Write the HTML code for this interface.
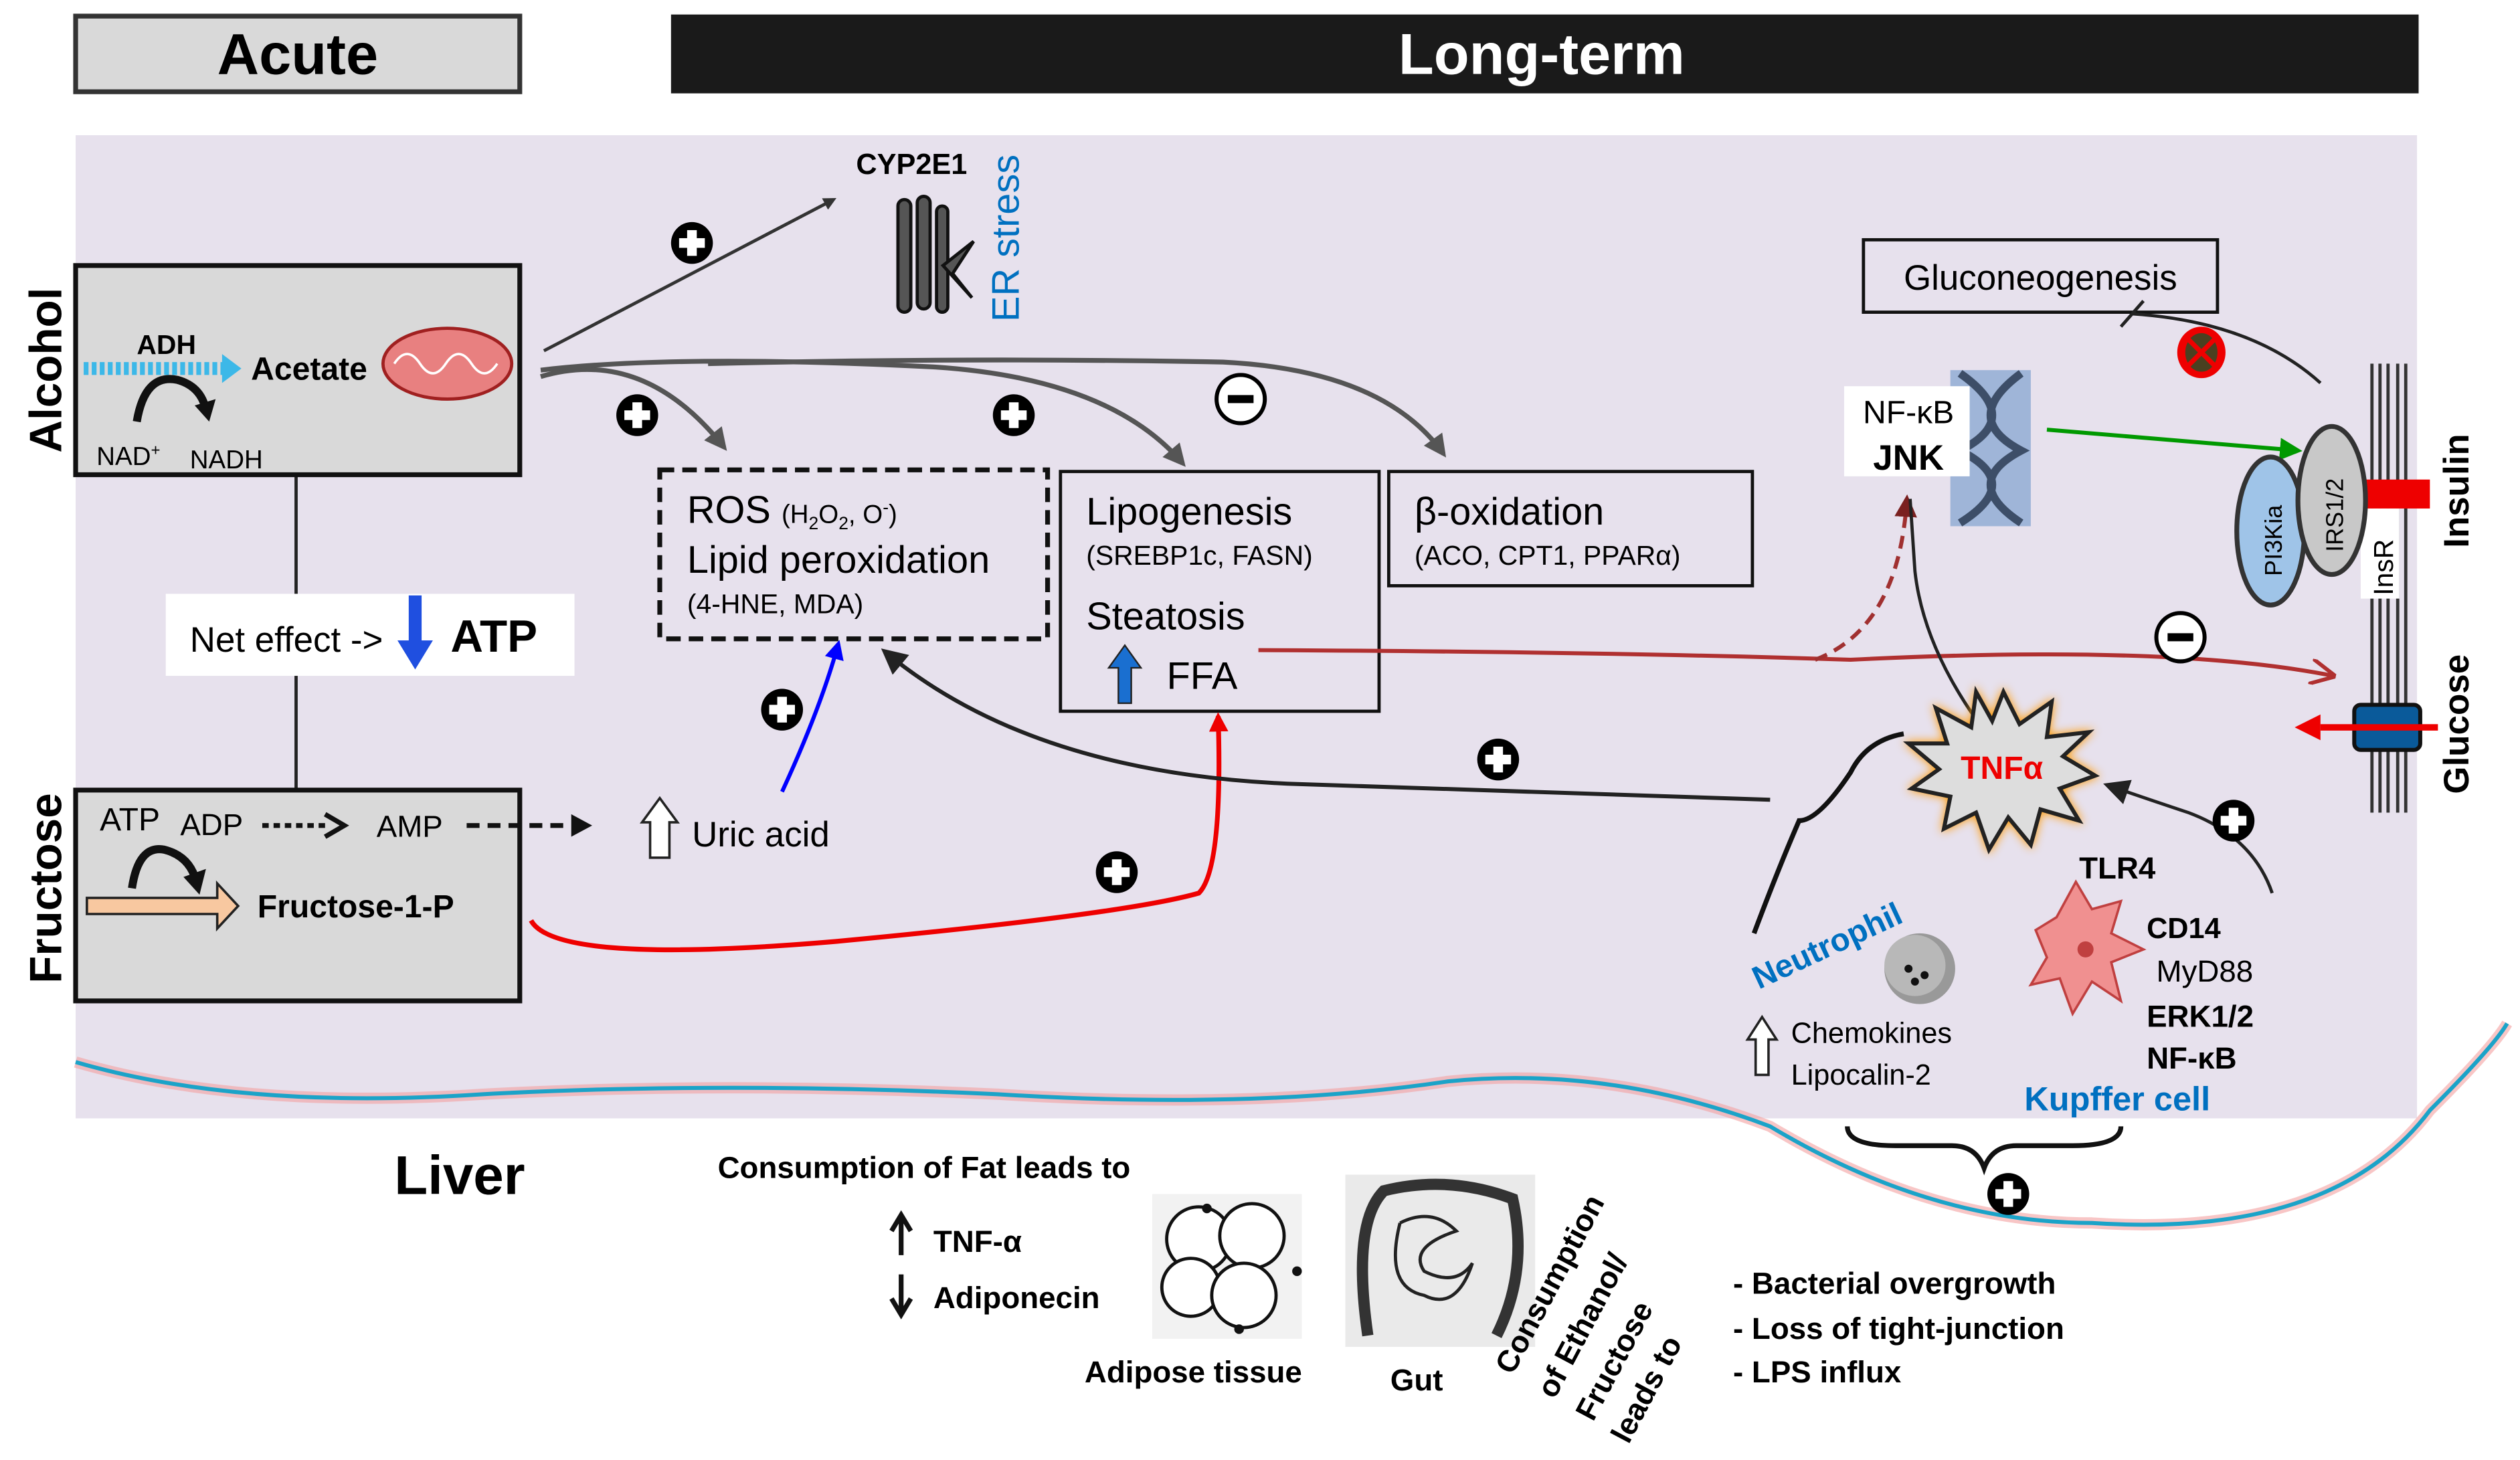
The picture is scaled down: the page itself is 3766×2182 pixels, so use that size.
<!DOCTYPE html>
<html><head><meta charset="utf-8"><style>
html,body{margin:0;padding:0;background:#fff;}
svg{display:block;}
text{font-family:"Liberation Sans",Arial,sans-serif;}
</style></head><body>
<svg width="3766" height="2182" viewBox="0 0 1566 907.3" xmlns="http://www.w3.org/2000/svg">
<defs>
<g id="plus"><circle r="13" fill="#000"/><rect x="-8" y="-3" width="16" height="6" fill="#fff"/><rect x="-3" y="-8" width="6" height="16" fill="#fff"/></g>
<g id="minus"><circle r="15" fill="#fff" stroke="#000" stroke-width="2.5"/><rect x="-8" y="-2.5" width="16" height="5" fill="#000"/></g>
<marker id="ab" markerWidth="8" markerHeight="8" refX="6" refY="4" orient="auto" markerUnits="userSpaceOnUse"><path d="M0,0 L8,4 L0,8 z" fill="#333"/></marker>
<marker id="ag" viewBox="0 0 10 10" markerWidth="14" markerHeight="14" refX="8" refY="5" orient="auto" markerUnits="userSpaceOnUse"><path d="M0,0 L10,5 L0,10 z" fill="#555"/></marker>
<marker id="ar" viewBox="0 0 10 10" markerWidth="12" markerHeight="12" refX="8" refY="5" orient="auto" markerUnits="userSpaceOnUse"><path d="M0,0 L10,5 L0,10 z" fill="#e00"/></marker>
<marker id="abl" viewBox="0 0 10 10" markerWidth="12" markerHeight="12" refX="8" refY="5" orient="auto" markerUnits="userSpaceOnUse"><path d="M0,0 L10,5 L0,10 z" fill="#00f"/></marker>
<marker id="agr" viewBox="0 0 10 10" markerWidth="14" markerHeight="14" refX="8" refY="5" orient="auto" markerUnits="userSpaceOnUse"><path d="M0,0 L10,5 L0,10 z" fill="#090"/></marker>
<marker id="adr" viewBox="0 0 10 10" markerWidth="14" markerHeight="14" refX="8" refY="5" orient="auto" markerUnits="userSpaceOnUse"><path d="M0,0 L10,5 L0,10 z" fill="#7a2020"/></marker>
<marker id="ak" viewBox="0 0 10 10" markerWidth="16" markerHeight="16" refX="8" refY="5" orient="auto" markerUnits="userSpaceOnUse"><path d="M0,0 L10,5 L0,10 z" fill="#222"/></marker>
<marker id="aopen" viewBox="0 0 10 10" markerWidth="16" markerHeight="16" refX="9" refY="5" orient="auto" markerUnits="userSpaceOnUse"><path d="M0,0 L10,5 L0,10" fill="none" stroke="#b03030" stroke-width="1.5"/></marker>
</defs>
<rect width="1566" height="907.3" fill="#fff"/>
<rect x="47" y="10" width="276" height="47" fill="#d9d9d9" stroke="#333" stroke-width="3"/>
<text x="185" y="46" font-size="36" font-weight="bold" text-anchor="middle">Acute</text>
<rect x="417" y="9" width="1086" height="49" fill="#1a1a1a"/>
<text x="958" y="46" font-size="36" font-weight="bold" fill="#fff" text-anchor="middle">Long-term</text>
<rect x="47" y="84" width="1455" height="611" fill="#e7e1ed"/>
<text transform="translate(38,230) rotate(-90)" font-size="28" font-weight="bold" text-anchor="middle">Alcohol</text>
<text transform="translate(38,552) rotate(-90)" font-size="28" font-weight="bold" text-anchor="middle">Fructose</text>
<text transform="translate(1534,305) rotate(-90)" font-size="22" font-weight="bold" text-anchor="middle">Insulin</text>
<text transform="translate(1534,450) rotate(-90)" font-size="22" font-weight="bold" text-anchor="middle">Glucose</text>
<line x1="184" y1="295" x2="184" y2="491" stroke="#222" stroke-width="2"/>
<rect x="47" y="165" width="276" height="130" fill="#d9d9d9" stroke="#111" stroke-width="3"/>
<text x="85" y="220" font-size="17" font-weight="bold">ADH</text>
<path d="M52,229 H140" stroke="#3cb8e8" stroke-width="8" stroke-dasharray="3,2"/>
<path d="M138,220 L150,229 L138,238 z" fill="#3cb8e8"/>
<path d="M85,262 Q90,232 110,236 Q125,240 128,255" fill="none" stroke="#111" stroke-width="5"/>
<path d="M121,252 L130,262 L134,248 z" fill="#111"/>
<text x="156" y="236" font-size="20" font-weight="bold">Acetate</text>
<ellipse cx="278" cy="226" rx="40" ry="22" fill="#e88080" stroke="#a02020" stroke-width="2"/>
<path d="M245,226 q8,-12 16,0 q8,12 16,0 q8,-12 16,0 q8,12 16,0" fill="none" stroke="#fff" stroke-width="1.5"/>
<text x="60" y="289" font-size="16">NAD<tspan font-size="10" dy="-6">+</tspan></text>
<text x="118" y="291" font-size="16">NADH</text>
<rect x="103" y="369" width="254" height="51" fill="#fff"/>
<text x="118" y="405" font-size="22">Net effect -&gt;</text>
<path d="M254,370 v28 h-7 l11,18 l11,-18 h-7 v-28 z" fill="#1f4fe0"/>
<text x="280" y="405" font-size="28" font-weight="bold">ATP</text>
<rect x="47" y="491" width="276" height="131" fill="#d9d9d9" stroke="#111" stroke-width="3"/>
<text x="62" y="516" font-size="20">ATP</text>
<text x="112" y="519" font-size="19">ADP</text>
<path d="M163,513 H205" stroke="#111" stroke-width="3" stroke-dasharray="4,3"/>
<path d="M202,506 L214,513 L202,520" fill="none" stroke="#111" stroke-width="3"/>
<text x="234" y="520" font-size="19">AMP</text>
<path d="M290,513 H355" stroke="#111" stroke-width="3" stroke-dasharray="8,5"/>
<path d="M355,506 L368,513 L355,520 z" fill="#111"/>
<path d="M82,552 Q86,525 102,528 Q118,532 122,548" fill="none" stroke="#111" stroke-width="5"/>
<path d="M114,545 L124,556 L128,540 z" fill="#111"/>
<path d="M54,558 H135 v-9 l13,14 l-13,14 v-9 H54 z" fill="#f8c8a0" stroke="#222" stroke-width="1.5"/>
<text x="160" y="570" font-size="20" font-weight="bold">Fructose-1-P</text>
<path d="M404,533 v-22 h-5 l11,-15 l11,15 h-5 v22 z" fill="#fff" stroke="#222" stroke-width="1.5"/>
<text x="430" y="526" font-size="22">Uric  acid</text>
<path d="M338,218 L518,124" stroke="#333" stroke-width="2" marker-end="url(#ab)"/>
<use href="#plus" x="430" y="151"/>
<text x="532" y="108" font-size="18" font-weight="bold">CYP2E1</text>
<g stroke="#111" stroke-width="2" fill="#555">
<rect x="558" y="124" width="8" height="70" rx="4"/><rect x="570" y="122" width="8" height="70" rx="4"/><rect x="582" y="128" width="7" height="66" rx="3.5"/>
<path d="M586,165 L605,150 L592,170 L604,185 z"/></g>
<text transform="translate(633,200) rotate(-90)" font-size="24" fill="#0070c0">ER stress</text>
<path d="M336,234 Q400,215 450,278" fill="none" stroke="#555" stroke-width="3" marker-end="url(#ag)"/>
<path d="M336,230 Q420,220 580,228 Q690,235 735,288" fill="none" stroke="#555" stroke-width="3" marker-end="url(#ag)"/>
<path d="M440,226 Q600,222 760,225 Q860,230 897,282" fill="none" stroke="#555" stroke-width="3" marker-end="url(#ag)"/>
<use href="#plus" x="396" y="258"/>
<use href="#plus" x="630" y="258"/>
<use href="#minus" x="771" y="248"/>
<rect x="410" y="292" width="241" height="105" fill="none" stroke="#111" stroke-width="3" stroke-dasharray="9,5"/>
<text x="427" y="325" font-size="24">ROS <tspan font-size="16">(H<tspan font-size="11" dy="4">2</tspan><tspan dy="-4">O</tspan><tspan font-size="11" dy="4">2</tspan><tspan dy="-4">, O</tspan><tspan font-size="11" dy="-6">-</tspan><tspan dy="6">)</tspan></tspan></text>
<text x="427" y="356" font-size="24">Lipid peroxidation</text>
<text x="427" y="381" font-size="17">(4-HNE, MDA)</text>
<rect x="659" y="293" width="198" height="149" fill="#e7e1ed" stroke="#111" stroke-width="2"/>
<text x="675" y="326" font-size="24">Lipogenesis</text>
<text x="675" y="351" font-size="17">(SREBP1c, FASN)</text>
<text x="675" y="391" font-size="24">Steatosis</text>
<path d="M695,437 v-22 h-6 l10,-14 l10,14 h-6 v22 z" fill="#1a6fd0" stroke="#222" stroke-width="1"/>
<text x="725" y="428" font-size="24">FFA</text>
<rect x="863" y="293" width="226" height="71" fill="none" stroke="#111" stroke-width="2"/>
<text x="879" y="326" font-size="24">β-oxidation</text>
<text x="879" y="351" font-size="17">(ACO, CPT1, PPARα)</text>
<path d="M486,492 Q510,440 521,400" fill="none" stroke="#00f" stroke-width="2.5" marker-end="url(#abl)"/>
<use href="#plus" x="486" y="441"/>
<path d="M330,572 Q345,600 520,585 Q700,568 745,555 Q760,540 757,445" fill="none" stroke="#e00" stroke-width="3" marker-end="url(#ar)"/>
<use href="#plus" x="694" y="542"/>
<path d="M1100,497 Q900,490 800,487 Q640,480 550,405" fill="none" stroke="#222" stroke-width="2.5" marker-end="url(#ak)"/>
<use href="#plus" x="931" y="472"/>
<path d="M782,404 Q1000,405 1150,410 Q1350,400 1450,420" fill="none" stroke="#b03030" stroke-width="2.5" marker-end="url(#aopen)"/>
<use href="#minus" x="1355" y="396"/>
<path d="M1128,410 Q1180,390 1185,310" fill="none" stroke="#a03030" stroke-width="2.5" stroke-dasharray="8,5" marker-end="url(#adr)"/>
<path d="M1228,447 Q1195,400 1190,355 L1187,310" fill="none" stroke="#222" stroke-width="2"/>
<rect x="1158" y="149" width="220" height="45" fill="none" stroke="#111" stroke-width="2"/>
<text x="1268" y="180" font-size="22" text-anchor="middle">Gluconeogenesis</text>
<path d="M1442,238 Q1400,200 1325,195" fill="none" stroke="#222" stroke-width="2"/>
<line x1="1318" y1="203" x2="1332" y2="187" stroke="#222" stroke-width="2"/>
<ellipse cx="1368" cy="219" rx="15" ry="16" fill="#e00"/>
<ellipse cx="1368" cy="219" rx="10" ry="12" fill="#4a4020"/>
<path d="M1360,211 L1376,227 M1376,211 L1360,227" stroke="#e00" stroke-width="3"/>
<rect x="1212" y="230" width="50" height="97" fill="#9fb5d8"/>
<path d="M1218,232 Q1258,260 1218,280 Q1258,300 1218,325 M1256,232 Q1218,260 1256,280 Q1218,300 1256,325" fill="none" stroke="#3d4e68" stroke-width="5"/>
<rect x="1146" y="240" width="78" height="56" fill="#fff"/>
<text x="1186" y="263" font-size="20" text-anchor="middle">NF-κB</text>
<text x="1186" y="292" font-size="22" font-weight="bold" text-anchor="middle">JNK</text>
<path d="M1272,267 L1428,280" stroke="#090" stroke-width="2.5" marker-end="url(#agr)"/>
<g stroke="#333" stroke-width="2"><line x1="1474" y1="226" x2="1474" y2="505"/><line x1="1479" y1="226" x2="1479" y2="505"/><line x1="1484" y1="226" x2="1484" y2="505"/><line x1="1490" y1="226" x2="1490" y2="505"/><line x1="1495" y1="226" x2="1495" y2="505"/></g>
<rect x="1465" y="298" width="45" height="18" fill="#e00"/>
<rect x="1467" y="316" width="24" height="56" fill="#fff"/>
<text transform="translate(1487,370) rotate(-90)" font-size="17">InsR</text>
<ellipse cx="1411" cy="330" rx="21" ry="46" fill="#9fc4e8" stroke="#333" stroke-width="3"/>
<text transform="translate(1418,358) rotate(-90)" font-size="15">PI3Kia</text>
<ellipse cx="1449" cy="311" rx="21" ry="46" fill="#c8c8c8" stroke="#333" stroke-width="3"/>
<text transform="translate(1456,343) rotate(-90)" font-size="15">IRS1/2</text>
<rect x="1463" y="438" width="41" height="28" rx="4" fill="#0a5a9a" stroke="#111" stroke-width="2.5"/>
<path d="M1515,452 H1442" stroke="#e00" stroke-width="4"/>
<path d="M1442,444 L1426,452 L1442,460 z" fill="#e00"/>
<polygon points="1245,430 1255,450 1275,436 1272,458 1298,455 1282,470 1302,482 1280,490 1292,510 1268,503 1262,525 1248,508 1236,528 1228,505 1208,515 1212,495 1188,490 1205,478 1186,462 1210,462 1203,440 1225,452 1228,430 1238,448" fill="#ddd" stroke="#222" stroke-width="2.5" style="filter:drop-shadow(0 0 3px #f90)"/>
<text x="1244" y="484" font-size="20" font-weight="bold" fill="#e00" text-anchor="middle">TNFα</text>
<path d="M1183,456 Q1160,460 1150,480 Q1130,510 1118,510 Q1105,540 1090,580" fill="none" stroke="#111" stroke-width="3"/>
<path d="M1412,555 Q1400,520 1360,505 Q1330,495 1310,488" fill="none" stroke="#222" stroke-width="2" marker-end="url(#ak)"/>
<use href="#plus" x="1388" y="510"/>
<text x="1093" y="615" font-size="20" font-weight="bold" fill="#0070c0" transform="rotate(-25 1093 615)">Neutrophil</text>
<circle cx="1193" cy="602" r="22" fill="#999"/><circle cx="1190" cy="600" r="19" fill="#b8b8b8"/>
<circle cx="1186" cy="602" r="2.5" fill="#111"/><circle cx="1196" cy="606" r="2.5" fill="#111"/><circle cx="1190" cy="610" r="2.5" fill="#111"/>
<path d="M1091,668 v-22 h-5 l9,-14 l9,14 h-5 v22 z" fill="#fff" stroke="#222" stroke-width="1.5"/>
<text x="1113" y="648" font-size="18">Chemokines</text>
<text x="1113" y="674" font-size="18">Lipocalin-2</text>
<text x="1292" y="546" font-size="19" font-weight="bold">TLR4</text>
<path d="M1265,578 L1278,570 L1290,548 L1300,565 L1318,560 L1312,580 L1332,590 L1312,598 L1318,622 L1300,610 L1288,630 L1280,608 L1262,612 L1272,595 z" fill="#f09090" stroke="#c04040" stroke-width="1.5"/>
<circle cx="1296" cy="590" r="5" fill="#c04040"/>
<text x="1334" y="583" font-size="18" font-weight="bold">CD14</text>
<text x="1340" y="610" font-size="19">MyD88</text>
<text x="1334" y="638" font-size="19" font-weight="bold">ERK1/2</text>
<text x="1334" y="664" font-size="19" font-weight="bold">NF-κB</text>
<text x="1258" y="690" font-size="21" font-weight="bold" fill="#0070c0">Kupffer cell</text>
<path d="M47,660 Q150,690 300,680 Q450,672 620,680 Q780,690 900,672 Q1000,662 1100,700 Q1200,760 1300,760 Q1450,770 1510,690 Q1550,650 1558,636" fill="none" stroke="#f4a0a0" stroke-width="7" opacity="0.6"/>
<path d="M47,660 Q150,690 300,680 Q450,672 620,680 Q780,690 900,672 Q1000,662 1100,700 Q1200,760 1300,760 Q1450,770 1510,690 Q1550,650 1558,636" fill="none" stroke="#1ba3c8" stroke-width="2.5"/>
<path d="M1148,700 q0,12 30,12 h35 q15,0 20,14 q5,-14 20,-14 h35 q30,0 30,-12" fill="none" stroke="#111" stroke-width="3"/>
<use href="#plus" x="1248" y="742"/>
<text x="245" y="742" font-size="34" font-weight="bold">Liver</text>
<text x="446" y="732" font-size="19" font-weight="bold">Consumption of Fat leads to</text>
<path d="M560,780 V758 M554,765 L560,755 L566,765" stroke="#111" stroke-width="3" fill="none"/>
<text x="580" y="778" font-size="19" font-weight="bold">TNF-α</text>
<path d="M560,792 V814 M554,807 L560,817 L566,807" stroke="#111" stroke-width="3" fill="none"/>
<text x="580" y="813" font-size="19" font-weight="bold">Adiponecin</text>
<rect x="716" y="742" width="93" height="90" fill="#f2f2f2"/>
<g fill="#fff" stroke="#111" stroke-width="2"><circle cx="745" cy="770" r="20"/><circle cx="778" cy="768" r="20"/><circle cx="740" cy="800" r="18"/><circle cx="773" cy="805" r="20"/></g>
<g fill="#111"><circle cx="750" cy="751" r="3"/><circle cx="770" cy="826" r="3"/><circle cx="806" cy="790" r="3"/></g>
<text x="674" y="859" font-size="19" font-weight="bold">Adipose  tissue</text>
<rect x="836" y="730" width="118" height="107" fill="#eaeaea"/>
<path d="M850,830 Q840,760 860,740 Q900,730 940,745 Q950,790 930,830" fill="none" stroke="#333" stroke-width="7"/>
<path d="M870,760 q20,-10 35,5 q-30,10 -20,25 q20,10 30,-5 q-10,30 -30,20 q-25,-5 -15,-45" fill="none" stroke="#222" stroke-width="2"/>
<text x="864" y="864" font-size="19" font-weight="bold">Gut</text>
<g font-size="19" font-weight="bold">
<text transform="translate(940,855) rotate(-62)">Consumption</text>
<text transform="translate(966,870) rotate(-62)">of Ethanol/</text>
<text transform="translate(990,884) rotate(-62)">Fructose</text>
<text transform="translate(1012,898) rotate(-62)">leads to</text>
</g>
<text x="1077" y="804" font-size="19" font-weight="bold">- Bacterial overgrowth</text>
<text x="1077" y="832" font-size="19" font-weight="bold">- Loss of tight-junction</text>
<text x="1077" y="859" font-size="19" font-weight="bold">- LPS influx</text>
</svg>
</body></html>
